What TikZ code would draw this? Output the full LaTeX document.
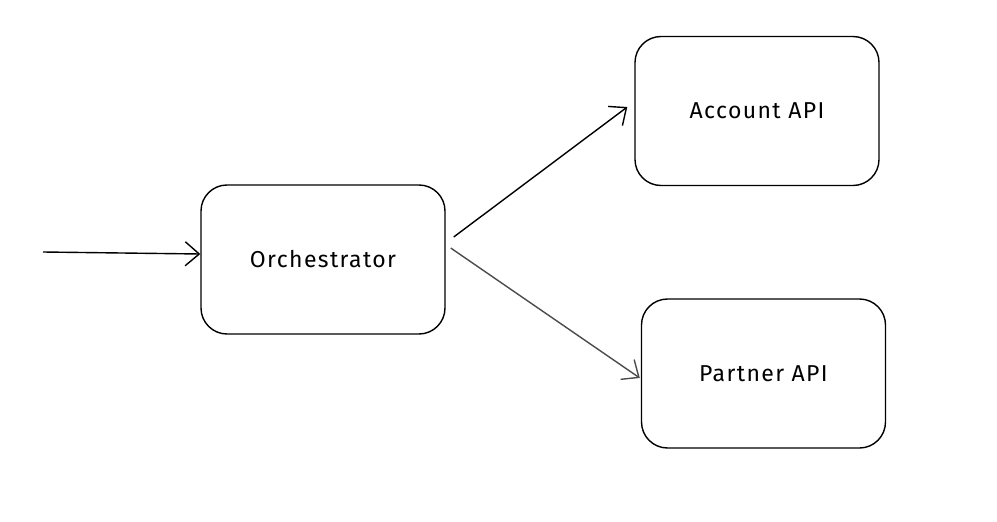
\documentclass[tikz,border=0pt]{standalone}
\usepackage{fontspec}
\setmainfont{Fira Sans}
\usetikzlibrary{arrows.meta}
\begin{document}
\begin{tikzpicture}[x=1pt,y=-1pt,
  box/.style={draw=black,line width=1.4pt,rounded corners=26pt,fill=white,minimum width=244pt,minimum height=149pt,font=\fontsize{23}{27}\selectfont\addfontfeatures{LetterSpace=6},inner sep=0pt},
  conn/.style={line width=1.4pt,-{Straight Barb[length=14pt,width=24pt,line width=1.4pt]}}]
\useasboundingbox[fill=white] (0,0) rectangle (997,522);
\node[box] (orch) at (323,259.5) {Orchestrator};
\node[box] (acc) at (757,111) {Account API};
\node[box] (part) at (763.5,373.5) {Partner API};
\coordinate (in) at (43,252);
\draw[conn] (in) -- ([yshift=5.5pt]orch.west);
\draw[conn] ([xshift=8pt,yshift=22.5pt]orch.east) -- ([xshift=-7pt,yshift=4pt]acc.west);
\draw[conn,draw=black!70] ([xshift=5pt,yshift=11.5pt]orch.east) -- ([xshift=-1pt,yshift=-4.5pt]part.west);
\end{tikzpicture}
\end{document}
